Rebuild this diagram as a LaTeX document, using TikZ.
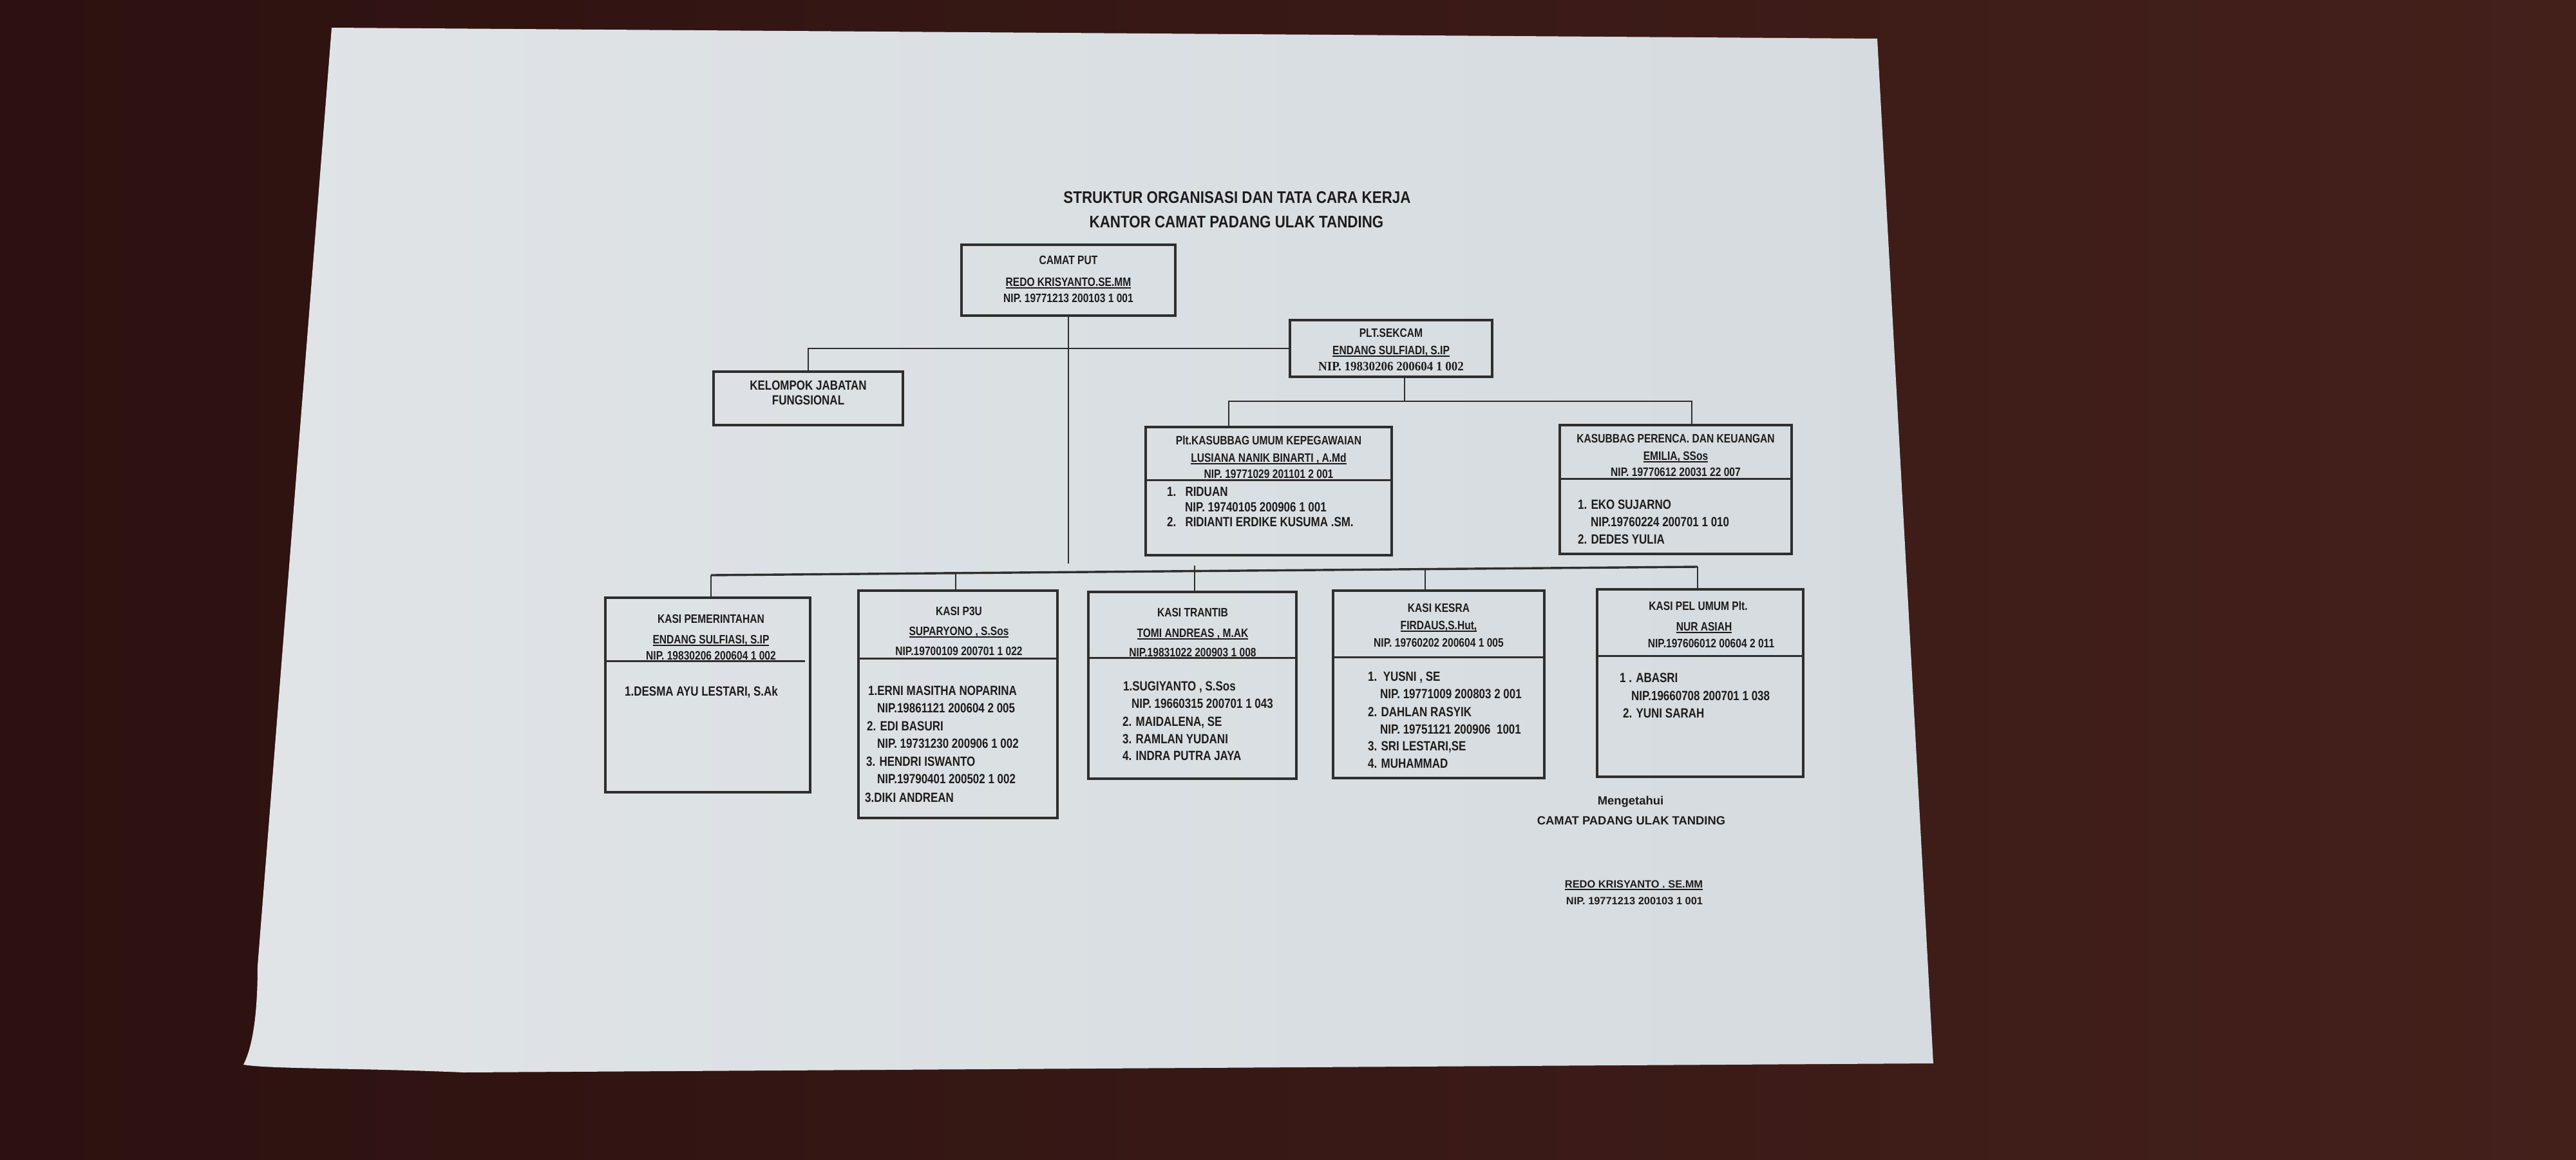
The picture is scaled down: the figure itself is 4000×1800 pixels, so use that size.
\documentclass[tikz,border=0pt]{standalone}
\usepackage{fontspec}
\setmainfont{Liberation Sans}
\newfontfamily\nf{Liberation Sans}[FakeStretch=0.82]
\newfontfamily\tf{Liberation Sans}[FakeStretch=0.86]
\newfontfamily\serifn{Liberation Serif}[FakeStretch=0.95]
\newfontfamily\wf{Liberation Sans}
\definecolor{bgl}{HTML}{2C1110}
\definecolor{bgr}{HTML}{44201B}
\definecolor{paperl}{HTML}{E0E4E7}
\definecolor{paperr}{HTML}{D5DBDF}
\definecolor{linec}{HTML}{2E2E2E}
\definecolor{textc}{HTML}{1C1C1C}
\newcommand\myul[1]{\setbox0\hbox{#1}\rlap{\rule[-3.6pt]{\wd0}{1.9pt}}\box0}
\tikzset{
  box/.style={draw=linec, line width=3.4pt, inner sep=0pt},
  divl/.style={draw=linec, line width=3pt},
  conn/.style={draw=linec, line width=2.6pt},
  busl/.style={draw=linec, line width=3.4pt},
  ln/.style={anchor=base, inner sep=0pt, text=textc, font=\nf\bfseries\fontsize{19}{22}\selectfont},
  li/.style={ln, anchor=base west, font=\nf\bfseries\fontsize{20.7}{24}\selectfont},
  ttl/.style={anchor=base, inner sep=0pt, text=textc, font=\tf\bfseries\fontsize{26}{30}\selectfont},
  sig/.style={anchor=base, inner sep=0pt, text=textc, font=\wf\bfseries\fontsize{18.4}{22}\selectfont},
  sigs/.style={anchor=base, inner sep=0pt, text=textc, font=\wf\bfseries\fontsize{16.4}{20}\selectfont},
}
\begin{document}
\begin{tikzpicture}[x=1pt,y=-1pt]
\useasboundingbox (0,0) rectangle (4000,1800);
\shade[left color=bgl, right color=bgr] (0,0) rectangle (4000,1800);
\shade[left color=paperl, right color=paperr]
  (515,43) -- (2915,60) -- (3002,1651) -- (720,1665)
  .. controls (560,1658) and (420,1660) .. (378,1653)
  .. controls (395,1620) and (400,1560) .. (400,1500) -- cycle;

% title
\node[ttl] (title1) at (1921,315) {STRUKTUR ORGANISASI DAN TATA CARA KERJA};
\node[ttl] (title2) at (1920,353) {KANTOR CAMAT PADANG ULAK TANDING};

% boxes
\node[box, minimum width=332pt, minimum height=110pt] (camat) at (1659,435) {};
\node[box, minimum width=314pt, minimum height=88pt] (sekcam) at (2160,541) {};
\node[box, minimum width=294pt, minimum height=83pt] (kelompok) at (1255,618.5) {};
\node[box, minimum width=382pt, minimum height=199pt] (umum) at (1970,762.5) {};
\node[box, minimum width=360pt, minimum height=200pt] (perenc) at (2602,760) {};
\node[box, minimum width=318pt, minimum height=302pt] (pem) at (1099,1079) {};
\node[box, minimum width=309pt, minimum height=353pt] (p3u) at (1487.5,1093.5) {};
\node[box, minimum width=323pt, minimum height=290pt] (trantib) at (1851.5,1064) {};
\node[box, minimum width=328pt, minimum height=291pt] (kesra) at (2234,1062.5) {};
\node[box, minimum width=320pt, minimum height=291pt] (pel) at (2640,1060.5) {};

% dividers
\draw[divl] ([yshift=-84pt]umum.north west) -- ([yshift=-84pt]umum.north east);
\draw[divl] ([yshift=-85pt]perenc.north west) -- ([yshift=-85pt]perenc.north east);
\draw[divl] ([yshift=-100pt]pem.north west) -- ([yshift=-100pt,xshift=-10pt]pem.north east);
\draw[divl] ([yshift=-107pt]p3u.north west) -- ([yshift=-107pt]p3u.north east);
\draw[divl] ([yshift=-104pt]trantib.north west) -- ([yshift=-104pt]trantib.north east);
\draw[divl] ([yshift=-105pt]kesra.north west) -- ([yshift=-105pt]kesra.north east);
\draw[divl] ([yshift=-105pt]pel.north west) -- ([yshift=-105pt]pel.north east);

% connectors
\coordinate (camEnd) at (1659,875);
\draw[conn] (camat.south) -- (camEnd);
\draw[conn] (kelompok.north) |- (sekcam.west);
\coordinate (sbus) at (2181,623);
\coordinate (sbL) at (1908,623);
\coordinate (sbR) at (2627,623);
\draw[conn] (sbus |- sekcam.south) -- (sbus);
\draw[conn] (sbL |- umum.north) -- (sbL) -- (sbR) -- (sbR |- perenc.north);

\coordinate (bb1) at (1104,893);
\coordinate (bb2) at (1484,889.8);
\coordinate (bb3) at (1855,886.6);
\coordinate (bb3t) at (1855,878);
\coordinate (bb4) at (2213,883.6);
\coordinate (bb5) at (2636,880);
\draw[busl] (bb1) -- (bb5);
\draw[conn] (bb1) -- (bb1 |- pem.north);
\draw[conn] (bb2) -- (bb2 |- p3u.north);
\draw[conn] (bb3t) -- (bb3t |- trantib.north);
\draw[conn] (bb4) -- (bb4 |- kesra.north);
\draw[conn] (bb5) -- (bb5 |- pel.north);

% camat
\node[ln] (camat1) at (1659,410) {CAMAT PUT};
\node[ln] (camat2) at (1659,444) {\myul{REDO KRISYANTO.SE.MM}};
\node[ln] (camat3) at (1659,469) {NIP. 19771213 200103 1 001};

% sekcam
\node[ln] (sek1) at (2160,523) {PLT.SEKCAM};
\node[ln] (sek2) at (2160,550) {\myul{ENDANG SULFIADI, S.IP}};
\node[ln, font=\serifn\bfseries\fontsize{20}{24}\selectfont] (sek3) at (2160,575) {NIP. 19830206 200604 1 002};

% kelompok
\node[ln, font=\nf\bfseries\fontsize{20.7}{24}\selectfont] (kel1) at (1255,605) {KELOMPOK JABATAN};
\node[ln, font=\nf\bfseries\fontsize{20.7}{24}\selectfont] (kel2) at (1255,628) {FUNGSIONAL};

% kasubbag umum
\node[ln] (um1) at (1970,690) {Plt.KASUBBAG UMUM KEPEGAWAIAN};
\node[ln] (um2) at (1970,717) {\myul{LUSIANA NANIK BINARTI , A.Md}};
\node[ln] (um3) at (1970,742) {NIP. 19771029 201101 2 001};
\node[li] (um4) at (1812,770) {1.\ \ \ RIDUAN};
\node[li] (um5) at (1840,794) {NIP. 19740105 200906 1 001};
\node[li] (um6) at (1812,817) {2.\ \ \ RIDIANTI ERDIKE KUSUMA .SM.};

% kasubbag perenc
\node[ln] (pr1) at (2602,687) {KASUBBAG PERENCA. DAN KEUANGAN};
\node[ln] (pr2) at (2602,714) {\myul{EMILIA, SSos}};
\node[ln] (pr3) at (2602,739) {NIP. 19770612 20031 22 007};
\node[li] (pr4) at (2450,790) {1. EKO SUJARNO};
\node[li] (pr5) at (2470,817) {NIP.19760224 200701 1 010};
\node[li] (pr6) at (2450,844) {2. DEDES YULIA};

% kasi pemerintahan
\node[ln] (pm1) at (1104,967) {KASI PEMERINTAHAN};
\node[ln] (pm2) at (1104,999) {\myul{ENDANG SULFIASI, S.IP}};
\node[ln] (pm3) at (1104,1024) {NIP. 19830206 200604 1 002};
\node[li] (pm4) at (970,1080) {1.DESMA AYU LESTARI, S.Ak};

% kasi p3u
\node[ln] (p31) at (1489,955) {KASI P3U};
\node[ln] (p32) at (1489,986) {\myul{SUPARYONO , S.Sos}};
\node[ln] (p33) at (1489,1017) {NIP.19700109 200701 1 022};
\node[li] (p34) at (1348,1079) {1.ERNI MASITHA NOPARINA};
\node[li] (p35) at (1362,1106) {NIP.19861121 200604 2 005};
\node[li] (p36) at (1346,1134) {2. EDI BASURI};
\node[li] (p37) at (1362,1161) {NIP. 19731230 200906 1 002};
\node[li] (p38) at (1345,1189) {3. HENDRI ISWANTO};
\node[li] (p39) at (1362,1216) {NIP.19790401 200502 1 002};
\node[li] (p310) at (1343,1245) {3.DIKI ANDREAN};

% kasi trantib
\node[ln] (tr1) at (1852,957) {KASI TRANTIB};
\node[ln] (tr2) at (1852,989) {\myul{TOMI ANDREAS , M.AK}};
\node[ln] (tr3) at (1852,1019) {NIP.19831022 200903 1 008};
\node[li] (tr4) at (1744,1072) {1.SUGIYANTO , S.Sos};
\node[li] (tr5) at (1757,1099) {NIP. 19660315 200701 1 043};
\node[li] (tr6) at (1743,1127) {2. MAIDALENA, SE};
\node[li] (tr7) at (1743,1154) {3. RAMLAN YUDANI};
\node[li] (tr8) at (1743,1180) {4. INDRA PUTRA JAYA};

% kasi kesra
\node[ln] (ks1) at (2234,950) {KASI KESRA};
\node[ln] (ks2) at (2234,977) {\myul{FIRDAUS,S.Hut,}};
\node[ln] (ks3) at (2234,1004) {NIP. 19760202 200604 1 005};
\node[li] (ks4) at (2124,1057) {1.\ \ YUSNI , SE};
\node[li] (ks5) at (2143,1084) {NIP. 19771009 200803 2 001};
\node[li] (ks6) at (2124,1112) {2. DAHLAN RASYIK};
\node[li] (ks7) at (2143,1139) {NIP. 19751121 200906\ \ 1001};
\node[li] (ks8) at (2124,1165) {3. SRI LESTARI,SE};
\node[li] (ks9) at (2124,1192) {4. MUHAMMAD};

% kasi pel umum
\node[ln] (pl1) at (2637,947) {KASI PEL UMUM Plt.};
\node[ln] (pl2) at (2646,979) {\myul{NUR ASIAH}};
\node[ln] (pl3) at (2657,1005) {NIP.197606012 00604 2 011};
\node[li] (pl4) at (2515,1059) {1 . ABASRI};
\node[li] (pl5) at (2533,1087) {NIP.19660708 200701 1 038};
\node[li] (pl6) at (2520,1114) {2. YUNI SARAH};

% signature
\node[sig] (sg1) at (2532,1249) {Mengetahui};
\node[sig] (sg2) at (2533,1280) {CAMAT PADANG ULAK TANDING};
\node[sigs] (sg3) at (2537,1378) {\myul{REDO KRISYANTO . SE.MM}};
\node[sigs] (sg4) at (2538,1404) {NIP. 19771213 200103 1 001};
\end{tikzpicture}
\end{document}
